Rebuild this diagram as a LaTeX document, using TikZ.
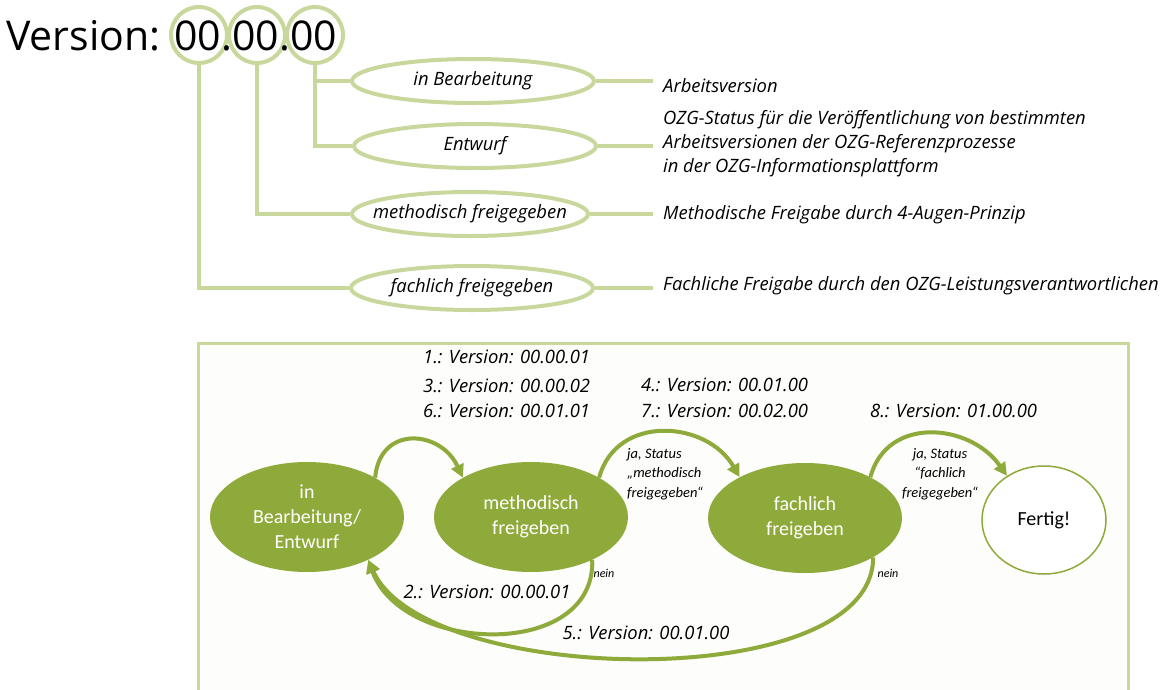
\documentclass[tikz,border=0pt]{standalone}
\usepackage{fontspec}
\setmainfont{Open Sans}
\newfontfamily\calib{Carlito}
\usetikzlibrary{arrows.meta,shapes.geometric}
\definecolor{lgreen}{HTML}{C8D79C}
\definecolor{ogreen}{HTML}{8EAA3A}
\definecolor{boxbg}{HTML}{FDFDFB}
\tikzset{
  ring/.style={circle,draw=lgreen,line width=4pt,minimum size=56pt,inner sep=0pt},
  topell/.style={ellipse,draw=lgreen,line width=4pt,minimum width=242pt,minimum height=44pt,inner sep=0pt,font=\fontsize{18.4}{22}\selectfont\itshape},
  conn/.style={draw=lgreen,line width=4pt},
  desc/.style={anchor=west,inner xsep=10pt,inner ysep=0pt,align=left,font=\fontsize{18.4}{24}\selectfont\itshape},
  vlabel/.style={inner sep=0pt,font=\fontsize{18.4}{22}\selectfont\itshape},
  state/.style={ellipse,fill=ogreen,minimum width=194pt,minimum height=110pt,inner sep=0pt,align=center,text=white,font=\calib\fontsize{20}{25}\selectfont},
  endstate/.style={ellipse,draw=ogreen,line width=1.5pt,fill=white,minimum width=124pt,minimum height=108pt,inner sep=0pt,font=\calib\fontsize{20}{25}\selectfont},
  flow/.style={draw=ogreen,line width=4pt,-{Triangle[length=13pt,width=13pt]}},
  small/.style={inner sep=0pt,align=left,font=\calib\itshape\fontsize{14.5}{19.5}\selectfont},
}
\begin{document}
\begin{tikzpicture}[x=1pt,y=-1pt]
\useasboundingbox (0,0) rectangle (1168,689);
% top part
\node[ring] (r1) at (199,35) {};
\node[ring] (r2) at (257,35) {};
\node[ring] (r3) at (315,35) {};
\node[anchor=base west,inner sep=0pt,font=\fontsize{41}{41}\selectfont] (ver) at (6,50) {Version: 00.00.00};
\node[topell] (bearb) at (473,81) {in Bearbeitung};
\node[topell] (entw) at (475,146) {Entwurf};
\node[topell,minimum width=236pt,inner xsep=-15pt] (meth) at (470,214) {methodisch freigegeben};
\node[topell,inner xsep=-6pt] (fach) at (472,288) {fachlich freigegeben};
\path[conn] (r3.south) |- (entw.west);
\path[conn] (r3.south |- bearb.west) -- (bearb.west);
\path[conn] (r2.south) |- (meth.west);
\path[conn] (r1.south) |- (fach.west);
\node[desc] (t1) at (653,86) {Arbeitsversion};
\node[desc] (t2) at (653,144) {OZG-Status für die Veröffentlichung von bestimmten\\Arbeitsversionen der OZG-Referenzprozesse\\in der OZG-Informationsplattform};
\node[desc] (t3) at (653,215) {Methodische Freigabe durch 4-Augen-Prinzip};
\node[desc] (t4) at (653,286) {Fachliche Freigabe durch den OZG-Leistungsverantwortlichen};
\path[conn] (bearb.east) -- (bearb.east -| t1.west);
\path[conn] (entw.east) -- (entw.east -| t2.west);
\path[conn] (meth.east) -- (meth.east -| t3.west);
\path[conn] (fach.east) -- (fach.east -| t4.west);
% bottom box
\path[fill=boxbg] (198,343) rectangle (1128,700);
\draw[lgreen,line width=3pt] (198,700) -- (198,343) -- (1128,343) -- (1128,700);
\node[vlabel,anchor=west] (v1) at (423,357) {1.: Version: 00.00.01};
\node[vlabel,anchor=west] (v3) at (423,386) {3.: Version: 00.00.02};
\node[vlabel,anchor=west] (v6) at (423,411) {6.: Version: 00.01.01};
\node[vlabel,anchor=west] (v4) at (641,385) {4.: Version: 00.01.00};
\node[vlabel,anchor=west] (v7) at (641,411) {7.: Version: 00.02.00};
\node[vlabel,anchor=west] (v8) at (870,411) {8.: Version: 01.00.00};
\node[state] (ib) at (307,517) {in\\Bearbeitung/\\Entwurf};
\node[state] (mf) at (531,517) {methodisch\\freigeben};
\node[state] (fl) at (805,518) {fachlich\\freigeben};
\node[endstate] (fe) at (1044,520) {Fertig!};
\path[flow] (ib.30) to[out=85,in=115,looseness=1.55] (mf.150);
\path[flow] (mf.30) to[out=75,in=120,looseness=1.2] (fl.148);
\path[flow] (fl.32) to[out=75,in=125,looseness=1.2] (fe.130);
\path[flow] (mf.-35) to[out=-88,in=-70,looseness=1.15] (ib.-35);
\path[flow] (fl.-30) to[out=-90,in=-66,looseness=0.7] (ib.-35);
\node[small,anchor=north west] (l1) at (627,448) {ja, Status\\„methodisch\\freigegeben“};
\node[small,align=center,anchor=north] (l2) at (940,448) {ja, Status\\“fachlich\\freigegeben“};
\node[small,font=\calib\itshape\fontsize{12}{14}\selectfont] (n1) at (604,573) {nein};
\node[small,font=\calib\itshape\fontsize{12}{14}\selectfont] (n2) at (888,573) {nein};
\node[vlabel] (v2) at (487,592) {2.: Version: 00.00.01};
\node[vlabel] (v5) at (646,633) {5.: Version: 00.01.00};
\end{tikzpicture}
\end{document}
